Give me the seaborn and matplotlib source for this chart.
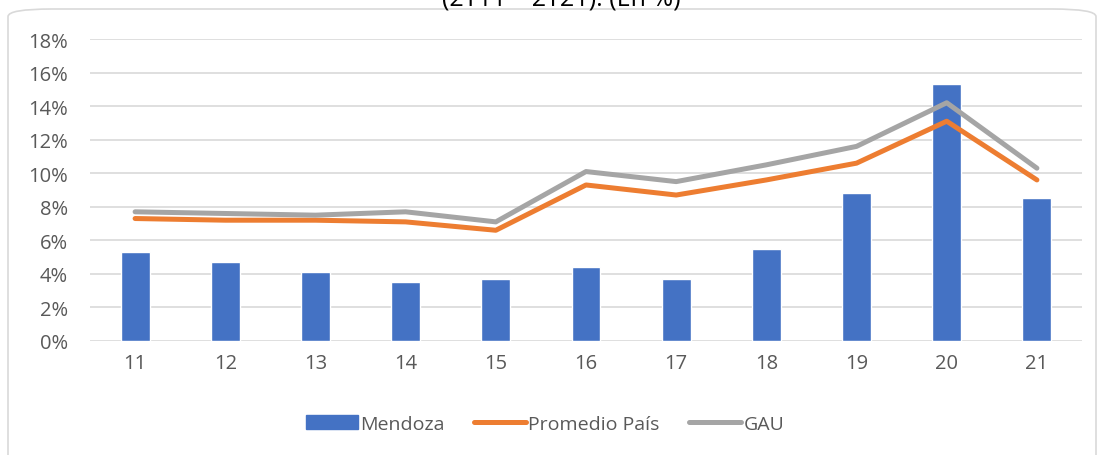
import pandas as pd
import seaborn as sns
import matplotlib.pyplot as plt
from matplotlib.patches import FancyBboxPatch, Patch
from matplotlib.lines import Line2D
from matplotlib.ticker import FuncFormatter

# Datos (en %)
periodos = ['11', '12', '13', '14', '15', '16', '17', '18', '19', '20', '21']
mendoza = [5.3, 4.7, 4.1, 3.5, 3.7, 4.4, 3.7, 5.5, 8.8, 15.3, 8.5]
promedio_pais = [7.3, 7.2, 7.2, 7.1, 6.6, 9.3, 8.7, 9.6, 10.6, 13.1, 9.6]
gau = [7.7, 7.6, 7.5, 7.7, 7.1, 10.1, 9.5, 10.5, 11.6, 14.2, 10.3]

titulo = '(2T11 – 2T21). (En %)'

sns.set_theme(style='white')
plt.rcParams['font.family'] = ['Open Sans', 'DejaVu Sans']

df = pd.DataFrame({'periodo': periodos, 'Mendoza': mendoza,
                   'Promedio País': promedio_pais, 'GAU': gau})

fig = plt.figure(figsize=(11, 4.56), dpi=100)
ax = fig.add_axes([90 / 1100, 1 - 342 / 456, 992 / 1100, 302 / 456])

sns.barplot(data=df, x='periodo', y='Mendoza', color='#4472c4', width=0.32,
            saturation=1, ax=ax, zorder=2)
sns.pointplot(data=df, x='periodo', y='Promedio País', color='#ed7d31',
              markers='', linewidth=3.6, ax=ax, zorder=3)
sns.pointplot(data=df, x='periodo', y='GAU', color='#a5a5a5',
              markers='', linewidth=3.6, ax=ax, zorder=4)
for ln in ax.lines:
    ln.set_solid_capstyle('round')
    ln.set_solid_joinstyle('round')

ax.set_xlim(-0.5, 10.5)
ax.set_ylim(0, 18)
ax.set_yticks(range(0, 19, 2))
ax.yaxis.set_major_formatter(FuncFormatter(lambda v, p: f'{v:.0f}%'))
ax.grid(axis='y', color='#d9d9d9', linewidth=1.2, zorder=0)
ax.set_axisbelow(True)
for s in ax.spines.values():
    s.set_visible(False)
ax.set_xlabel('')
ax.set_ylabel('')
ax.tick_params(axis='both', colors='#595959', labelsize=14.5, length=0)
ax.tick_params(axis='x', pad=9)
ax.tick_params(axis='y', pad=16)

# Leyenda
handles = [Patch(color='#4472c4'),
           Line2D([], [], color='#ed7d31', linewidth=3.6, solid_capstyle='round'),
           Line2D([], [], color='#a5a5a5', linewidth=3.6, solid_capstyle='round')]
fig.legend(handles, ['Mendoza', 'Promedio País', 'GAU'], loc='center',
           bbox_to_anchor=(545 / 1100, 1 - 425 / 456), ncol=3, frameon=False,
           fontsize=14, labelcolor='#595959', handlelength=2.7,
           handletextpad=0.1, columnspacing=1.5)

# Marco del gráfico
marco = FancyBboxPatch((8 / 1100, -0.1), 1088 / 1100, 1.1 - 10 / 456,
                       boxstyle='round,pad=0,rounding_size=0.04',
                       transform=fig.transFigure, facecolor='none',
                       edgecolor='#d9d9d9', linewidth=1.2, mutation_aspect=456 / 1100)
fig.add_artist(marco)

# Título (cortado en la parte superior, como en el original)
fig.text(561 / 1100, 1 - 6 / 456, titulo, ha='center', va='baseline', fontsize=18,
         color='#000000')

plt.savefig('out.png', dpi=100)
